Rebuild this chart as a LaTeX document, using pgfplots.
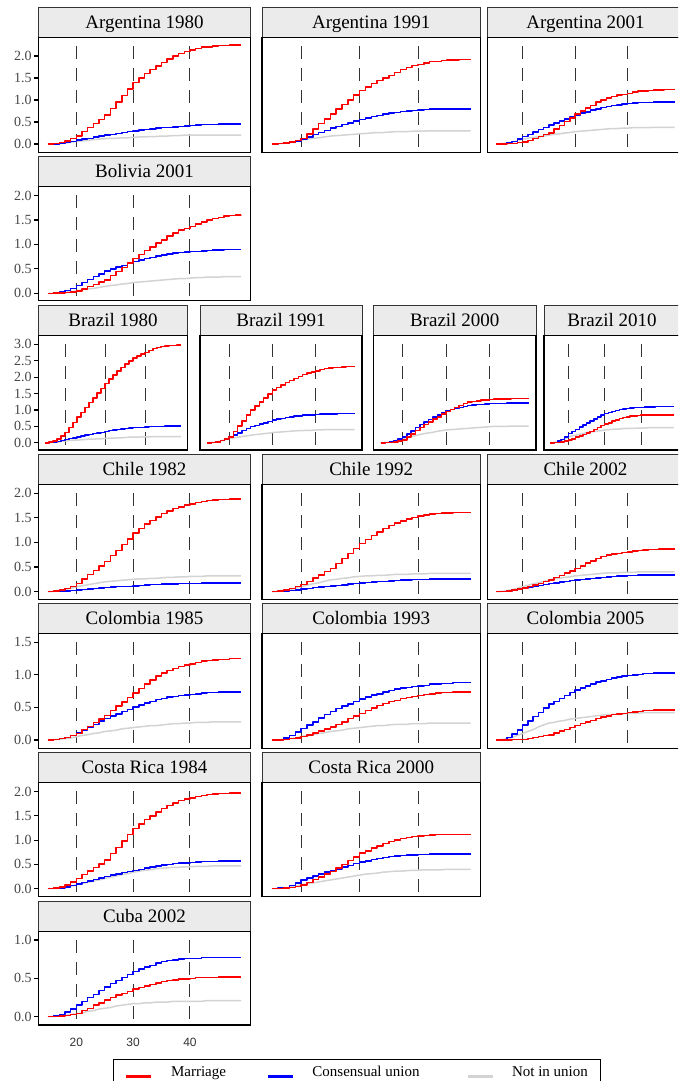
\documentclass[border=0pt]{standalone}
\usepackage{pgfplots}
\pgfplotsset{compat=1.18}
\usepackage{pgfplotstable}
\usepackage{fontspec}
\setmainfont{Liberation Serif}
\newfontfamily\sansf{Liberation Sans}
\definecolor{mred}{HTML}{FF0000}
\definecolor{mblue}{HTML}{0000FF}
\definecolor{mgray}{HTML}{D3D3D3}
\definecolor{stripfill}{HTML}{EBEBEB}
\newcommand\titlefont{\fontsize{19}{20}\selectfont}

% Argentina 1980
\pgfplotstableread{
a m c n
15 0 0 0
16 .01 .005 .003
17 .03 .015 .01
18 .07 .03 .02
19 .12 .06 .04
20 .18 .09 .06
21 .28 .11 .07
22 .37 .13 .08
23 .47 .16 .10
24 .56 .18 .11
25 .66 .20 .12
26 .81 .22 .13
27 .96 .24 .13
28 1.10 .26 .14
29 1.25 .28 .14
30 1.40 .30 .15
31 1.50 .32 .16
32 1.60 .33 .16
33 1.69 .34 .17
34 1.77 .36 .17
35 1.85 .37 .18
36 1.93 .38 .18
37 2.00 .39 .19
38 2.06 .40 .19
39 2.10 .41 .20
40 2.14 .42 .20
41 2.17 .43 .20
42 2.20 .44 .20
43 2.21 .44 .20
44 2.23 .44 .20
45 2.24 .45 .20
46 2.24 .45 .20
47 2.25 .45 .20
48 2.25 .45 .20
49 2.25 .45 .20
}\tAa
% Argentina 1991
\pgfplotstableread{
a m c n
15 0 0 0
16 .01 .01 .005
17 .02 .02 .015
18 .04 .04 .03
19 .08 .07 .06
20 .12 .11 .09
21 .23 .16 .11
22 .34 .21 .13
23 .46 .26 .14
24 .57 .31 .16
25 .68 .36 .18
26 .79 .40 .19
27 .90 .44 .20
28 1.00 .48 .21
29 1.11 .52 .22
30 1.22 .56 .23
31 1.29 .59 .24
32 1.37 .62 .25
33 1.44 .65 .26
34 1.50 .68 .26
35 1.56 .70 .27
36 1.63 .72 .28
37 1.69 .74 .28
38 1.74 .75 .28
39 1.78 .76 .29
40 1.81 .77 .29
41 1.84 .78 .29
42 1.87 .79 .30
43 1.88 .79 .30
44 1.90 .79 .30
45 1.91 .80 .30
46 1.91 .80 .30
47 1.92 .80 .30
48 1.92 .80 .30
49 1.92 .80 .30
}\tAb
% Argentina 2001
\pgfplotstableread{
a m c n
15 0 0 0
16 .003 .01 .01
17 .01 .03 .02
18 .015 .06 .04
19 .03 .11 .07
20 .04 .17 .11
21 .08 .22 .13
22 .12 .27 .15
23 .17 .33 .16
24 .21 .38 .18
25 .25 .43 .20
26 .34 .48 .22
27 .42 .52 .23
28 .51 .57 .25
29 .59 .61 .26
30 .68 .66 .28
31 .75 .70 .29
32 .82 .73 .30
33 .88 .77 .31
34 .95 .80 .32
35 1.00 .83 .33
36 1.04 .85 .34
37 1.08 .88 .35
38 1.11 .89 .35
39 1.13 .91 .36
40 1.15 .92 .36
41 1.18 .93 .37
42 1.20 .94 .37
43 1.21 .94 .37
44 1.22 .94 .37
45 1.23 .95 .38
46 1.23 .95 .38
47 1.24 .95 .38
48 1.24 .95 .38
49 1.24 .95 .38
}\tAc
% Bolivia 2001
\pgfplotstableread{
a m c n
15 0 0 0
16 .002 .01 .002
17 .01 .03 .01
18 .02 .06 .02
19 .03 .10 .03
20 .05 .16 .05
21 .09 .22 .07
22 .14 .28 .09
23 .18 .34 .10
24 .23 .40 .12
25 .27 .46 .14
26 .36 .50 .16
27 .45 .54 .17
28 .53 .57 .19
29 .62 .61 .20
30 .71 .65 .22
31 .79 .68 .23
32 .88 .71 .24
33 .95 .73 .25
34 1.03 .76 .26
35 1.09 .78 .27
36 1.17 .80 .28
37 1.23 .82 .29
38 1.29 .83 .30
39 1.33 .84 .30
40 1.37 .85 .31
41 1.42 .86 .32
42 1.46 .87 .32
43 1.50 .88 .33
44 1.53 .89 .33
45 1.55 .89 .33
46 1.58 .90 .34
47 1.59 .90 .34
48 1.60 .90 .34
49 1.61 .90 .34
}\tBo
% Brazil 1980
\pgfplotstableread{
a m c n
15 0 0 0
16 .02 .005 .003
17 .05 .02 .01
18 .12 .04 .02
19 .21 .07 .04
20 .32 .10 .06
21 .47 .13 .07
22 .62 .15 .08
23 .78 .18 .08
24 .93 .20 .09
25 1.08 .23 .10
26 1.23 .25 .11
27 1.37 .28 .11
28 1.52 .30 .12
29 1.66 .32 .12
30 1.81 .35 .13
31 1.94 .37 .14
32 2.07 .39 .14
33 2.19 .41 .15
34 2.30 .42 .15
35 2.40 .44 .16
36 2.49 .45 .17
37 2.58 .46 .17
38 2.65 .47 .17
39 2.70 .47 .18
40 2.75 .48 .18
41 2.81 .49 .18
42 2.87 .49 .19
43 2.90 .50 .19
44 2.93 .50 .19
45 2.95 .51 .19
46 2.97 .51 .19
47 2.97 .51 .19
48 2.98 .51 .19
49 2.98 .51 .19
}\tBa
% Brazil 1991
\pgfplotstableread{
a m c n
15 0 0 0
16 .01 .01 .01
17 .03 .03 .02
18 .07 .07 .05
19 .12 .12 .09
20 .18 .18 .13
21 .34 .24 .15
22 .51 .30 .17
23 .67 .37 .19
24 .84 .43 .21
25 1.00 .49 .23
26 1.12 .53 .25
27 1.24 .57 .26
28 1.37 .61 .28
29 1.49 .65 .29
30 1.61 .69 .31
31 1.69 .72 .32
32 1.76 .74 .33
33 1.83 .77 .34
34 1.90 .79 .35
35 1.96 .81 .36
36 2.02 .82 .37
37 2.08 .84 .37
38 2.12 .85 .38
39 2.16 .85 .38
40 2.19 .86 .39
41 2.23 .87 .39
42 2.26 .88 .40
43 2.28 .88 .40
44 2.29 .88 .40
45 2.30 .89 .40
46 2.31 .89 .40
47 2.32 .89 .40
48 2.32 .89 .40
49 2.32 .89 .40
}\tBb
% Brazil 2000
\pgfplotstableread{
a m c n
15 0 0 0
16 .004 .01 .01
17 .01 .03 .02
18 .03 .07 .05
19 .05 .12 .09
20 .08 .18 .13
21 .18 .27 .16
22 .27 .36 .19
23 .37 .46 .22
24 .46 .55 .25
25 .56 .64 .28
26 .64 .71 .30
27 .72 .78 .32
28 .79 .84 .35
29 .87 .91 .37
30 .95 .98 .39
31 1.01 1.01 .40
32 1.08 1.05 .41
33 1.14 1.08 .42
34 1.19 1.10 .43
35 1.24 1.13 .44
36 1.26 1.15 .45
37 1.28 1.16 .46
38 1.30 1.17 .47
39 1.31 1.18 .48
40 1.32 1.19 .49
41 1.33 1.20 .50
42 1.34 1.20 .50
43 1.34 1.20 .50
44 1.34 1.21 .50
45 1.35 1.21 .51
46 1.35 1.21 .51
47 1.35 1.21 .51
48 1.35 1.21 .51
49 1.35 1.21 .51
}\tBc
% Brazil 2010
\pgfplotstableread{
a m c n
15 0 0 0
16 .004 .01 .01
17 .01 .05 .03
18 .03 .10 .07
19 .05 .18 .12
20 .08 .28 .18
21 .12 .35 .21
22 .17 .41 .23
23 .21 .48 .26
24 .26 .54 .28
25 .30 .61 .31
26 .35 .67 .33
27 .41 .73 .34
28 .46 .78 .36
29 .52 .84 .37
30 .57 .90 .39
31 .61 .93 .40
32 .66 .96 .41
33 .70 .98 .42
34 .74 1.01 .42
35 .77 1.03 .43
36 .79 1.04 .44
37 .81 1.06 .44
38 .82 1.07 .44
39 .83 1.07 .45
40 .84 1.08 .45
41 .84 1.09 .45
42 .85 1.09 .46
43 .85 1.09 .46
44 .85 1.10 .46
45 .85 1.10 .46
46 .85 1.10 .46
47 .85 1.10 .46
48 .85 1.10 .46
49 .85 1.10 .46
}\tBd
% Chile 1982
\pgfplotstableread{
a m c n
15 0 0 0
16 .01 .002 .005
17 .03 .005 .02
18 .06 .01 .04
19 .11 .02 .07
20 .17 .03 .10
21 .26 .04 .12
22 .35 .05 .14
23 .43 .06 .16
24 .52 .07 .18
25 .61 .08 .20
26 .73 .09 .21
27 .84 .10 .22
28 .96 .10 .23
29 1.07 .11 .24
30 1.19 .12 .25
31 1.28 .13 .26
32 1.37 .14 .26
33 1.45 .15 .27
34 1.52 .15 .27
35 1.59 .16 .28
36 1.64 .16 .29
37 1.69 .16 .29
38 1.72 .17 .30
39 1.76 .17 .30
40 1.78 .17 .31
41 1.81 .17 .31
42 1.83 .18 .31
43 1.85 .18 .32
44 1.86 .18 .32
45 1.87 .18 .32
46 1.87 .18 .32
47 1.88 .18 .32
48 1.88 .18 .32
49 1.88 .18 .32
}\tCa
% Chile 1992
\pgfplotstableread{
a m c n
15 0 0 0
16 .01 .003 .005
17 .03 .01 .02
18 .06 .02 .04
19 .10 .03 .07
20 .15 .05 .10
21 .21 .06 .13
22 .28 .08 .16
23 .34 .09 .18
24 .41 .11 .21
25 .47 .12 .24
26 .57 .13 .25
27 .67 .14 .27
28 .78 .16 .28
29 .88 .17 .30
30 .98 .18 .31
31 1.06 .19 .32
32 1.14 .20 .32
33 1.21 .21 .33
34 1.28 .21 .33
35 1.34 .22 .34
36 1.39 .23 .35
37 1.44 .24 .35
38 1.48 .24 .35
39 1.51 .25 .36
40 1.54 .25 .36
41 1.56 .25 .36
42 1.58 .26 .37
43 1.59 .26 .37
44 1.60 .26 .37
45 1.60 .26 .37
46 1.61 .26 .37
47 1.61 .26 .37
48 1.61 .26 .37
49 1.61 .26 .37
}\tCb
% Chile 2002
\pgfplotstableread{
a m c n
15 0 0 0
16 .004 .004 .005
17 .01 .01 .02
18 .03 .03 .04
19 .05 .05 .07
20 .07 .07 .10
21 .10 .09 .13
22 .14 .11 .16
23 .17 .13 .18
24 .21 .15 .21
25 .24 .17 .24
26 .29 .18 .26
27 .33 .20 .27
28 .38 .21 .29
29 .42 .23 .30
30 .47 .24 .32
31 .52 .25 .33
32 .58 .26 .34
33 .62 .27 .35
34 .67 .28 .36
35 .71 .29 .37
36 .74 .30 .38
37 .76 .31 .38
38 .78 .32 .38
39 .80 .32 .39
40 .81 .33 .39
41 .83 .33 .39
42 .84 .34 .40
43 .85 .34 .40
44 .86 .34 .40
45 .86 .34 .40
46 .87 .34 .40
47 .87 .34 .40
48 .87 .34 .40
49 .87 .34 .40
}\tCc
% Colombia 1985
\pgfplotstableread{
a m c n
15 0 0 0
16 .005 .006 .003
17 .02 .02 .01
18 .04 .04 .02
19 .07 .07 .03
20 .10 .11 .05
21 .16 .15 .07
22 .21 .20 .08
23 .27 .24 .10
24 .32 .29 .11
25 .38 .33 .13
26 .45 .37 .14
27 .52 .40 .15
28 .58 .44 .17
29 .65 .47 .18
30 .72 .51 .19
31 .79 .54 .20
32 .86 .57 .21
33 .92 .59 .22
34 .98 .62 .22
35 1.03 .64 .23
36 1.07 .66 .24
37 1.10 .67 .25
38 1.13 .68 .25
39 1.15 .69 .26
40 1.17 .70 .26
41 1.19 .71 .27
42 1.21 .72 .27
43 1.22 .73 .27
44 1.23 .73 .28
45 1.24 .74 .28
46 1.24 .74 .28
47 1.25 .74 .28
48 1.25 .74 .28
49 1.25 .74 .28
}\tDa
% Colombia 1993
\pgfplotstableread{
a m c n
15 0 0 0
16 .003 .01 .003
17 .01 .03 .01
18 .02 .07 .02
19 .03 .12 .03
20 .05 .18 .05
21 .08 .23 .07
22 .11 .28 .08
23 .14 .34 .10
24 .17 .39 .11
25 .20 .44 .13
26 .24 .48 .14
27 .28 .52 .15
28 .33 .55 .17
29 .37 .59 .18
30 .41 .63 .19
31 .45 .66 .20
32 .49 .69 .21
33 .53 .71 .22
34 .56 .74 .22
35 .59 .76 .23
36 .61 .78 .24
37 .64 .80 .24
38 .65 .81 .24
39 .67 .82 .25
40 .68 .83 .25
41 .70 .84 .25
42 .71 .86 .26
43 .72 .86 .26
44 .73 .87 .26
45 .73 .87 .26
46 .74 .88 .26
47 .74 .88 .26
48 .74 .88 .26
49 .74 .88 .26
}\tDb
% Colombia 2005
\pgfplotstableread{
a m c n
15 0 0 0
16 .001 .01 .005
17 .002 .04 .02
18 .004 .09 .04
19 .007 .15 .07
20 .01 .23 .10
21 .02 .29 .13
22 .04 .36 .16
23 .05 .42 .20
24 .07 .49 .23
25 .08 .55 .26
26 .11 .59 .27
27 .14 .64 .29
28 .16 .68 .30
29 .19 .73 .32
30 .22 .77 .33
31 .25 .80 .34
32 .28 .83 .35
33 .30 .86 .36
34 .33 .89 .37
35 .35 .91 .38
36 .37 .93 .39
37 .39 .95 .39
38 .40 .97 .40
39 .41 .98 .40
40 .42 .99 .41
41 .43 1.00 .41
42 .44 1.01 .41
43 .45 1.02 .42
44 .45 1.02 .42
45 .46 1.03 .42
46 .46 1.03 .42
47 .46 1.03 .42
48 .46 1.03 .42
49 .46 1.03 .42
}\tDc
% Costa Rica 1984
\pgfplotstableread{
a m c n
15 0 0 0
16 .01 .005 .004
17 .04 .02 .01
18 .08 .04 .03
19 .14 .07 .05
20 .21 .10 .08
21 .29 .13 .11
22 .36 .16 .13
23 .44 .19 .16
24 .51 .22 .18
25 .59 .25 .21
26 .72 .28 .24
27 .85 .30 .26
28 .98 .33 .29
29 1.11 .35 .31
30 1.24 .38 .34
31 1.33 .40 .36
32 1.42 .43 .38
33 1.50 .45 .39
34 1.58 .47 .41
35 1.65 .49 .42
36 1.71 .50 .43
37 1.76 .52 .44
38 1.81 .53 .44
39 1.84 .53 .45
40 1.87 .54 .45
41 1.90 .55 .46
42 1.92 .56 .46
43 1.94 .56 .46
44 1.95 .56 .47
45 1.96 .57 .47
46 1.96 .57 .47
47 1.97 .57 .47
48 1.97 .57 .47
49 1.97 .57 .47
}\tEa
% Costa Rica 2000
\pgfplotstableread{
a m c n
15 0 0 0
16 .004 .01 .004
17 .01 .03 .01
18 .03 .07 .03
19 .05 .12 .05
20 .08 .18 .08
21 .13 .22 .10
22 .19 .26 .12
23 .24 .30 .14
24 .30 .34 .16
25 .35 .38 .18
26 .43 .41 .20
27 .50 .45 .22
28 .58 .48 .24
29 .65 .52 .26
30 .73 .55 .28
31 .78 .57 .30
32 .84 .60 .31
33 .88 .62 .32
34 .93 .64 .34
35 .97 .66 .35
36 1.00 .67 .36
37 1.03 .68 .36
38 1.05 .69 .37
39 1.07 .69 .38
40 1.08 .70 .38
41 1.09 .70 .39
42 1.10 .71 .39
43 1.11 .71 .39
44 1.11 .71 .39
45 1.12 .71 .40
46 1.12 .71 .40
47 1.12 .71 .40
48 1.12 .71 .40
49 1.12 .71 .40
}\tEb
% Cuba 2002
\pgfplotstableread{
a m c n
15 0 0 0
16 .002 .01 .002
17 .01 .03 .01
18 .015 .06 .015
19 .03 .10 .03
20 .04 .15 .04
21 .08 .20 .05
22 .11 .25 .07
23 .15 .29 .08
24 .18 .34 .10
25 .22 .39 .11
26 .25 .43 .12
27 .28 .47 .14
28 .30 .51 .15
29 .33 .55 .16
30 .36 .59 .17
31 .38 .62 .17
32 .40 .65 .18
33 .42 .67 .18
34 .44 .70 .19
35 .46 .72 .19
36 .47 .73 .19
37 .48 .74 .20
38 .49 .75 .20
39 .49 .76 .20
40 .50 .76 .20
41 .51 .76 .20
42 .51 .77 .20
43 .51 .77 .21
44 .51 .77 .21
45 .52 .77 .21
46 .52 .77 .21
47 .52 .77 .21
48 .52 .77 .21
49 .52 .77 .21
}\tFa

\pgfplotsset{
  panel/.style={
    scale only axis, anchor=north west,
    xmin=13.3, xmax=50.7,
    xtick=\empty, ytick=\empty,
    axis line style={black, line width=1.1pt},
    clip=true,
  },
  ylab/.style={
    ytick={#1},
    ytick pos=left, tick align=outside, major tick length=4.5pt,
    ytick style={black, line width=1.1pt},
    yticklabel style={font=\fontsize{14}{14}\selectfont, text=black!72, inner xsep=2pt},
    yticklabel={\pgfmathprintnumber[fixed,fixed zerofill,precision=1,assume math mode=true]{\tick}},
  },
  rA/.style={ymin=-0.189, ymax=2.425},
  rB/.style={ymin=-0.151, ymax=2.18},
  rC/.style={ymin=-0.22, ymax=3.27},
  rD/.style={ymin=-0.155, ymax=2.18},
  rE/.style={ymin=-0.128, ymax=1.633},
  rF/.style={ymin=-0.164, ymax=2.18},
  rG/.style={ymin=-0.108, ymax=1.108},
  rd/.style={const plot mark left, no marks, line width=1.5pt, color=mred, line join=round},
  bl/.style={const plot mark left, no marks, line width=1.5pt, color=mblue, line join=round},
  gr/.style={sharp plot, no marks, line width=1.5pt, color=mgray},
}
\tikzset{vl/.style={draw=black!80, line width=0.9pt, dash pattern=on 13pt off 9pt, dash phase=13.3pt}}

% #1 table, #2 left, #3 width, #4 top, #5 height, #6 title, #7 axis options
\newcommand{\panel}[7]{%
  \draw[draw=black!80, fill=stripfill, line width=0.8pt] (#2pt,-#4pt) rectangle ({#2pt+#3pt},{-#4pt+30pt});
  \node[anchor=base, font=\titlefont, inner sep=0pt] at ({#2pt+#3pt/2},{-#4pt+9pt}) {#6};
  \begin{axis}[panel, at={(#2pt,-#4pt)}, width=#3pt, height=#5pt, #7]
    \draw[vl] ({axis cs:20,0}|-{rel axis cs:0,1}) -- ({axis cs:20,0}|-{rel axis cs:0,0});
    \draw[vl] ({axis cs:30,0}|-{rel axis cs:0,1}) -- ({axis cs:30,0}|-{rel axis cs:0,0});
    \draw[vl] ({axis cs:40,0}|-{rel axis cs:0,1}) -- ({axis cs:40,0}|-{rel axis cs:0,0});
    \addplot[gr] table[x=a,y=n]{#1};
    \addplot[bl] table[x=a,y=c]{#1};
    \addplot[rd] table[x=a,y=m]{#1};
  \end{axis}}

\begin{document}
\begin{tikzpicture}
\useasboundingbox (0pt,0pt) rectangle (678pt,-1081pt);
\fill[white] (0pt,0pt) rectangle (678pt,-1081pt);
\clip (0pt,0pt) rectangle (678pt,-1081pt);

\panel{\tAa}{38.3}{212.4}{37.3}{115}{Argentina 1980}{rA, ylab={0,0.5,1,1.5,2}}
\panel{\tAb}{262}{218.5}{37.3}{115}{Argentina 1991}{rA}
\panel{\tAc}{487.5}{196}{37.3}{115}{Argentina 2001}{rA}

\panel{\tBo}{38.3}{212.4}{186.7}{114}{Bolivia 2001}{rB, ylab={0,0.5,1,1.5,2}}

\panel{\tBa}{38.3}{149.4}{335.5}{114.5}{Brazil 1980}{rC, ylab={0,0.5,1,1.5,2,2.5,3}}
\panel{\tBb}{200}{162}{335.5}{114.5}{Brazil 1991}{rC}
\panel{\tBc}{373.3}{162.7}{335.5}{114.5}{Brazil 2000}{rC}
\panel{\tBd}{544}{136}{335.5}{114.5}{Brazil 2010}{rC}

\panel{\tCa}{38.3}{212.4}{484.3}{115}{Chile 1982}{rD, ylab={0,0.5,1,1.5,2}}
\panel{\tCb}{262}{218.5}{484.3}{115}{Chile 1992}{rD}
\panel{\tCc}{487.5}{196}{484.3}{115}{Chile 2002}{rD}

\panel{\tDa}{38.3}{212.4}{633.7}{114.6}{Colombia 1985}{rE, ylab={0,0.5,1,1.5}}
\panel{\tDb}{262}{218.5}{633.7}{114.6}{Colombia 1993}{rE}
\panel{\tDc}{487.5}{196}{633.7}{114.6}{Colombia 2005}{rE}

\panel{\tEa}{38.3}{212.4}{782.7}{114}{Costa Rica 1984}{rF, ylab={0,0.5,1,1.5,2}}
\panel{\tEb}{262}{218.5}{782.7}{114}{Costa Rica 2000}{rF}

\panel{\tFa}{38.3}{212.4}{931.7}{93.3}{Cuba 2002}{rG, ylab={0,0.5,1},
  xtick={20,30,40}, xtick style={draw=none},
  xticklabel style={font=\sansf\fontsize{12}{12}\selectfont, text=black!80, yshift=-5pt},
  xticklabel={\pgfmathprintnumber[assume math mode=true]{\tick}},
  legend entries={{\hspace*{17.6pt}\makebox[77pt][l]{Not in union}},{\hspace*{17.7pt}\makebox[154pt][l]{Consensual union}},{\hspace*{18.3pt}\makebox[95.7pt][l]{Marriage}}},
  reverse legend,
  legend columns=3,
  legend image code/.code={\draw[#1, line width=3pt] (0pt,0pt) -- (25pt,0pt);},
  legend style={at={(axis description cs:0.3531,-0.3676)}, anchor=north west,
    draw=black, line width=0.9pt, fill=white, inner xsep=11pt, inner ysep=6pt,
    font=\fontsize{15}{15}\selectfont, column sep=0pt, nodes={inner sep=0pt, anchor=base west}}}
\end{tikzpicture}
\end{document}
